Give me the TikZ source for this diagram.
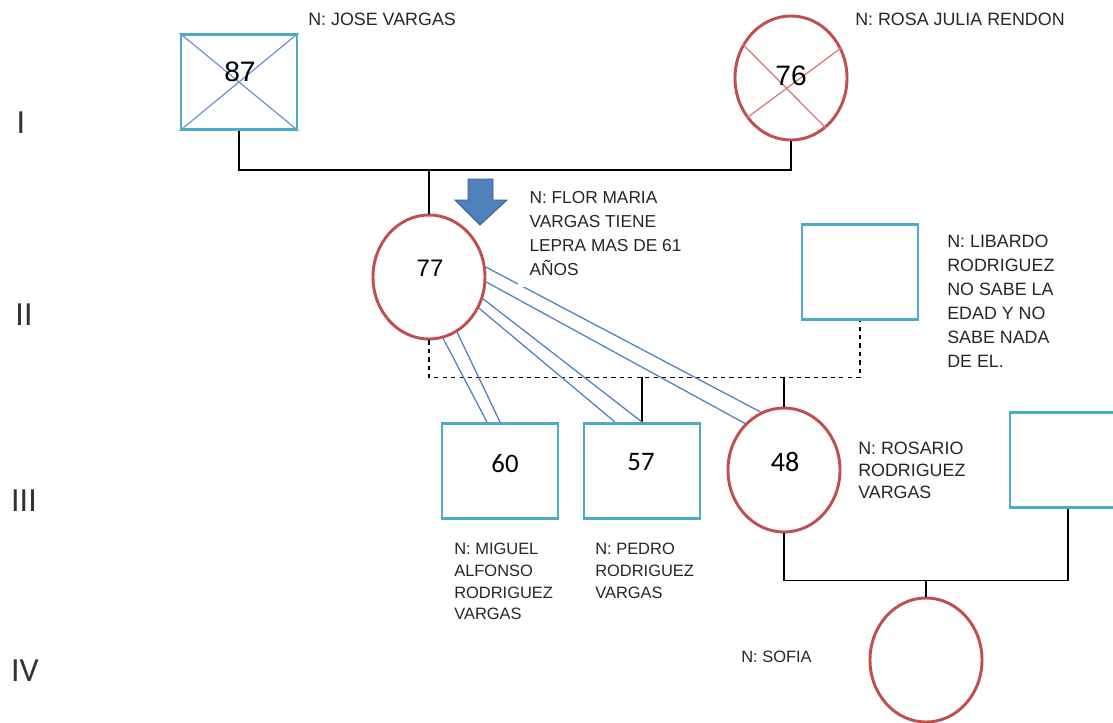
\documentclass[tikz,border=0pt]{standalone}
\usepackage{fontspec}
\setmainfont{Liberation Sans}
\newfontfamily\calibri{Carlito}
\usetikzlibrary{shapes.geometric,calc}
\definecolor{cyanline}{HTML}{4BACC6}
\definecolor{redline}{HTML}{C0504D}
\definecolor{blueline}{HTML}{4F81BD}
\definecolor{darkblue}{HTML}{385D8A}
\definecolor{crossblue}{HTML}{6F98D2}
\definecolor{crossred}{HTML}{D47A78}
\tikzset{
    male/.style={rectangle,draw=cyanline,line width=2.1pt,minimum width=2.9cm,minimum height=2.375cm,inner sep=0pt},
    female/.style={ellipse,draw=redline,line width=2.1pt,minimum width=2.8cm,minimum height=3.1cm,inner sep=0pt},
    edge/.style={-,draw=black,line width=0.8pt},
    sibs/.style={-,draw=black,line width=0.8pt,dashed},
    twin/.style={-,draw=blueline,line width=0.9pt},
    deadblue/.style={-,draw=crossblue,line width=0.9pt},
    deadred/.style={-,draw=crossred,line width=0.9pt},
    gen/.style={font=\calibri\fontsize{24}{24}\selectfont,text=black!80,inner sep=0pt},
    age/.style={font=\fontsize{20}{20}\selectfont,inner sep=0pt},
    cage/.style={font=\calibri\fontsize{19}{19}\selectfont,inner sep=0pt},
    namelbl/.style={anchor=north west,inner sep=0pt,align=left,text=black!85,font=\fontsize{12.7}{17}\selectfont},
    smalllbl/.style={anchor=north west,inner sep=0pt,align=left,text=black!85,font=\fontsize{11.7}{15.4}\selectfont},
}
\begin{document}
\begin{tikzpicture}[x=0.025cm,y=-0.025cm]
    \useasboundingbox (0,0) rectangle (1113,723);
    \clip (0,0) rectangle (1113,723);
    % generaciones
    \node[gen] (g1) at (21,123) {I};
    \node[gen] (g2) at (24,315) {II};
    \node[gen] (g3) at (24,501) {III};
    \node[gen] (g4) at (25,671) {IV};
    % generacion I
    \node[male] (jose) at (239,82) {};
    \draw[deadblue] (jose.north west) -- (jose.south east);
    \draw[deadblue] (jose.south west) -- (jose.north east);
    \node[age] (jose-age) at (240,72) {87};
    \node[female] (rosa) at (791,78) {};
    \draw[deadred] (rosa.145) -- (rosa.-55);
    \draw[deadred] (rosa.31) -- (rosa.222);
    \node[age] (rosa-age) at (791,76) {76};
    \draw[edge] (jose.south) -- ++(0,39) coordinate (m1) -| (rosa.south);
    % generacion II
    \node[female] (flor) at (429,277) {};
    \node[age,font=\fontsize{17}{17}\selectfont] (flor-age) at (430,268) {77};
    \draw[edge] (flor.north) -- (flor.north |- m1);
    \filldraw[fill=blueline,draw=darkblue,line width=0.6pt]
        (468,179) -- (493,179) -- (493,200) -- (507,200) -- (480,225) -- (455,200) -- (468,200) -- cycle;
    \node[male] (libardo) at (860,272) {};
    \draw[sibs] (flor.south) -- ++(0,37) coordinate (sib) -| (libardo.south);
    % generacion III
    \node[male] (miguel) at (500,471) {};
    \node[cage] (miguel-age) at (505,464) {60};
    \node[male] (pedro) at (642,471) {};
    \node[cage] (pedro-age) at (641,462) {57};
    \node[female] (rosario) at (784,470) {};
    \node[cage,font=\calibri\fontsize{20}{20}\selectfont] (rosario-age) at (785,462) {48};
    \node[male] (esposo) at (1068,460) {};
    \draw[edge] ($(miguel.north)+(2,0)$) -- ($(miguel.north)+(2,0)$ |- sib);
    \draw[edge] (pedro.north) -- (pedro.north |- sib);
    \draw[edge] (rosario.north) -- (rosario.north |- sib);
    \draw[twin] (flor.-77) -- ($(miguel.north)+(-13,0)$);
    \draw[twin] (flor.-63) -- (miguel.north);
    \draw[twin] (flor.-32) -- ($(pedro.north)+(-27,0)$);
    \draw[twin] (flor.-22) -- (pedro.north);
    \draw[twin] (flor.-5) -- (rosario.130);
    \draw[twin] (flor.10) -- (rosario.112);
    \draw[edge] (rosario.south) -- ++(0,47) coordinate (m2) -| (esposo.south);
    % generacion IV
    \node[female] (sofia) at (926,660) {};
    \draw[edge] (sofia.north) -- (sofia.north |- m2);
    % nombres
    \node[namelbl] (jose-n) at (308,13) {N: JOSE VARGAS};
    \node[namelbl] (rosa-n) at (855,13) {N: ROSA JULIA RENDON};
    \node[namelbl,fill=white,inner sep=8pt,font=\fontsize{12.3}{17}\selectfont] (flor-n) at (518,180)
        {N: FLOR MARIA\\VARGAS TIENE\\LEPRA MAS DE 61\\AÑOS};
    \node[namelbl] (libardo-n) at (947,235)
        {N: LIBARDO\\RODRIGUEZ\\NO SABE LA\\EDAD Y NO\\SABE NADA\\DE EL.};
    \node[smalllbl] (miguel-n) at (454,543) {N: MIGUEL\\ALFONSO\\RODRIGUEZ\\VARGAS};
    \node[smalllbl] (pedro-n) at (595,543) {N: PEDRO\\RODRIGUEZ\\VARGAS};
    \node[smalllbl,font=\fontsize{12.7}{15.4}\selectfont] (rosario-n) at (858,442) {N: ROSARIO\\RODRIGUEZ\\VARGAS};
    \node[smalllbl] (sofia-n) at (741,651) {N: SOFIA};
\end{tikzpicture}
\end{document}
